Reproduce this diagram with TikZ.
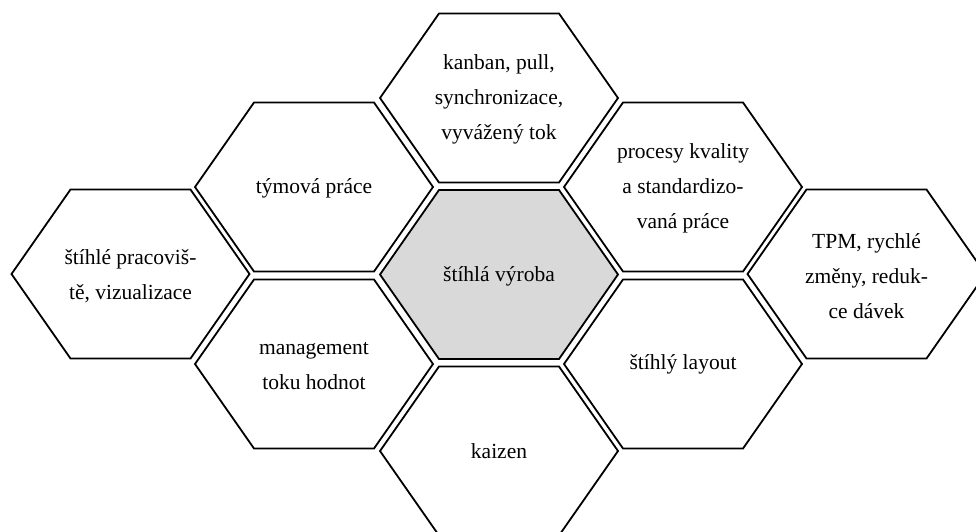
\documentclass[tikz,border=0pt]{standalone}
\usepackage{fontspec}
\setmainfont{Liberation Serif}
\begin{document}
\begin{tikzpicture}[x=1pt,y=-1pt,
  hexline/.style={draw=black, line width=1.8pt, line join=miter},
  celltext/.style={align=center, font=\fontsize{21.5}{35}\selectfont, inner sep=0pt},
  pics/hexcell/.style={code={
    \path[hexline,#1] (-119,0) -- (-60,-84.5) -- (60,-84.5) -- (119,0)
      -- (60,84.5) -- (-60,84.5) -- cycle;}}]
\useasboundingbox (0,0) rectangle (976,531);
\clip (0,0) rectangle (976,531);

% honeycomb cells
\pic at (499,274.5) {hexcell={fill=black!15}};
\pic at (499,98)    {hexcell={fill=white}};
\pic at (499,451)   {hexcell={fill=white}};
\pic at (314,187)   {hexcell={fill=white}};
\pic at (314,364)   {hexcell={fill=white}};
\pic at (683,187)   {hexcell={fill=white}};
\pic at (683,364)   {hexcell={fill=white}};
\pic at (130.5,274) {hexcell={fill=white}};
\pic at (866.5,274) {hexcell={fill=white}};

% labels
\node[celltext] (lean)    at (499,276)   {štíhlá výroba};
\node[celltext] (kanban)  at (499,99)    {kanban, pull,\\synchronizace,\\vyvážený tok};
\node[celltext] (kaizen)  at (499,451)   {kaizen};
\node[celltext] (team)    at (314,188)   {týmová práce};
\node[celltext] (vsm)     at (314,366)   {management\\toku hodnot};
\node[celltext] (quality) at (683,188)   {procesy kvality\\a standardizo-\\vaná práce};
\node[celltext] (layout)  at (683,364)   {štíhlý layout};
\node[celltext] (work)    at (130.5,276) {štíhlé pracoviš-\\tě, vizualizace};
\node[celltext] (tpm)     at (866.5,276) {TPM, rychlé\\změny, reduk-\\ce dávek};
\end{tikzpicture}
\end{document}
